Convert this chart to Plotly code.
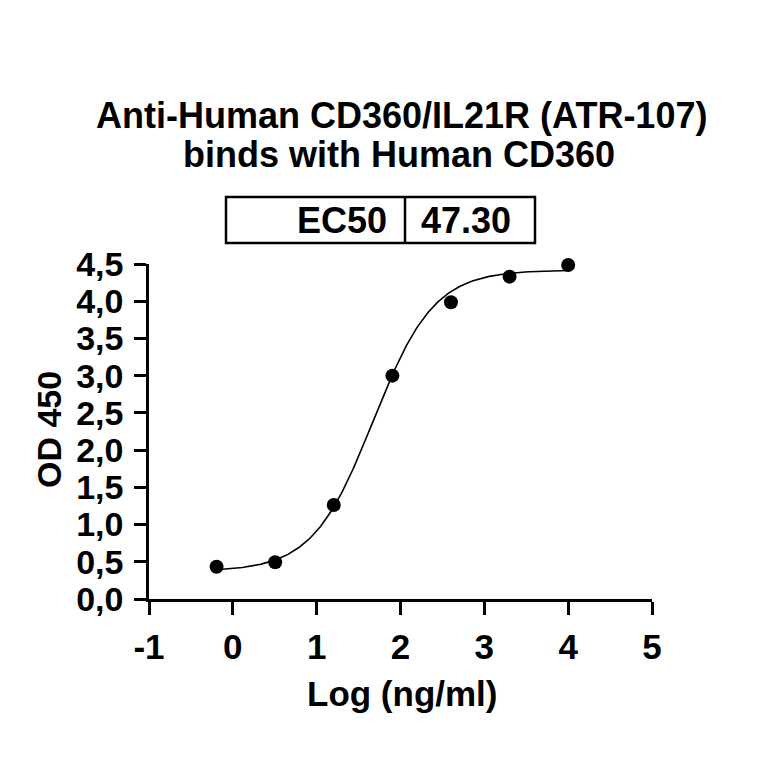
import numpy as np
import plotly.graph_objects as go

# Data
log_conc = [-0.194, 0.505, 1.204, 1.903, 2.602, 3.301, 4.0]
od450 = [0.434, 0.493, 1.263, 3.00, 3.986, 4.33, 4.487]
# 4PL fit parameters
fit_bottom = 0.37
fit_top = 4.42
fit_logec50 = np.log10(47.30)
fit_hill = 1.2
ec50_label = "EC50"
ec50_value = "47.30"
x_ticks = [-1, 0, 1, 2, 3, 4, 5]
y_ticks = [0, 0.5, 1, 1.5, 2, 2.5, 3, 3.5, 4, 4.5]
y_tick_text = ["0,0", "0,5", "1,0", "1,5", "2,0", "2,5", "3,0", "3,5", "4,0", "4,5"]
title_lines = ["Anti-Human CD360/IL21R (ATR-107)", "binds with Human CD360"]
x_title = "Log (ng/ml)"
y_title = "OD 450"

xc = np.linspace(min(log_conc), max(log_conc), 300)
yc = fit_bottom + (fit_top - fit_bottom) / (1 + 10 ** ((fit_logec50 - xc) * fit_hill))

FONT = "Liberation Sans, Arial, sans-serif"
fig = go.Figure()
fig.add_trace(go.Scatter(x=xc, y=yc, mode="lines", line=dict(color="black", width=1.6),
                         hoverinfo="skip", showlegend=False, cliponaxis=False))
fig.add_trace(go.Scatter(x=log_conc, y=od450, mode="markers", cliponaxis=False,
                         marker=dict(color="black", size=14), showlegend=False))

OFF = 8  # browser body margin
W = H = 764 - 2 * OFF
L, R, T, B = 149 - OFF, 652 - OFF, 264 - OFF, 599 - OFF
def px(p):
    return (p - OFF - L) / (R - L)
def py(p):
    return (B - (p - OFF)) / (B - T)

fig.update_layout(
    width=W, height=H,
    margin=dict(l=L, r=W - R, t=T, b=H - B, pad=0),
    plot_bgcolor="white", paper_bgcolor="white",
    font=dict(family=FONT, color="black"),
    xaxis=dict(range=[-1, 5], tickvals=x_ticks, ticktext=[str(v) for v in x_ticks],
               showline=True, linecolor="black", linewidth=2.5,
               ticks="outside", ticklen=13, tickwidth=2.5, tickcolor="black",
               showgrid=False, zeroline=False, ticklabelstandoff=2,
               tickfont=dict(size=35, family=FONT, weight="bold")),
    yaxis=dict(range=[0, 4.5], tickvals=y_ticks, ticktext=y_tick_text,
               showline=True, linecolor="black", linewidth=2.5,
               ticks="outside", ticklen=12, tickwidth=2.5, tickcolor="black",
               showgrid=False, zeroline=False, ticklabelstandoff=4,
               tickfont=dict(size=34, family=FONT, weight="bold")),
)

ann = []
ann.append(dict(text="<b>%s</b>" % title_lines[0], x=px(401), y=py(115), xref="paper", yref="paper",
                showarrow=False, font=dict(size=36), xanchor="center", yanchor="middle"))
ann.append(dict(text="<b>%s</b>" % title_lines[1], x=px(399), y=py(154), xref="paper", yref="paper",
                showarrow=False, font=dict(size=36), xanchor="center", yanchor="middle"))
ann.append(dict(text="<b>%s</b>" % ec50_label, x=px(389), y=py(220), xref="paper", yref="paper",
                showarrow=False, font=dict(size=36), xanchor="right", yanchor="middle"))
ann.append(dict(text="<b>%s</b>" % ec50_value, x=px(466), y=py(220), xref="paper", yref="paper",
                showarrow=False, font=dict(size=36), xanchor="center", yanchor="middle"))
ann.append(dict(text="<b>%s</b>" % x_title, x=px(402), y=py(693), xref="paper", yref="paper",
                showarrow=False, font=dict(size=35), xanchor="center", yanchor="middle"))
ann.append(dict(text="<b>%s</b>" % y_title, x=px(49), y=py(430), xref="paper", yref="paper",
                showarrow=False, font=dict(size=34), xanchor="center", yanchor="middle",
                textangle=-90))
fig.update_layout(annotations=ann)

shapes = [
    dict(type="rect", xref="paper", yref="paper", x0=px(226), x1=px(535), y0=py(243), y1=py(197),
         line=dict(color="black", width=2.5)),
    dict(type="line", xref="paper", yref="paper", x0=px(405), x1=px(405), y0=py(243), y1=py(197),
         line=dict(color="black", width=2.5)),
]
fig.update_layout(shapes=shapes)

fig.write_html("out.html")
